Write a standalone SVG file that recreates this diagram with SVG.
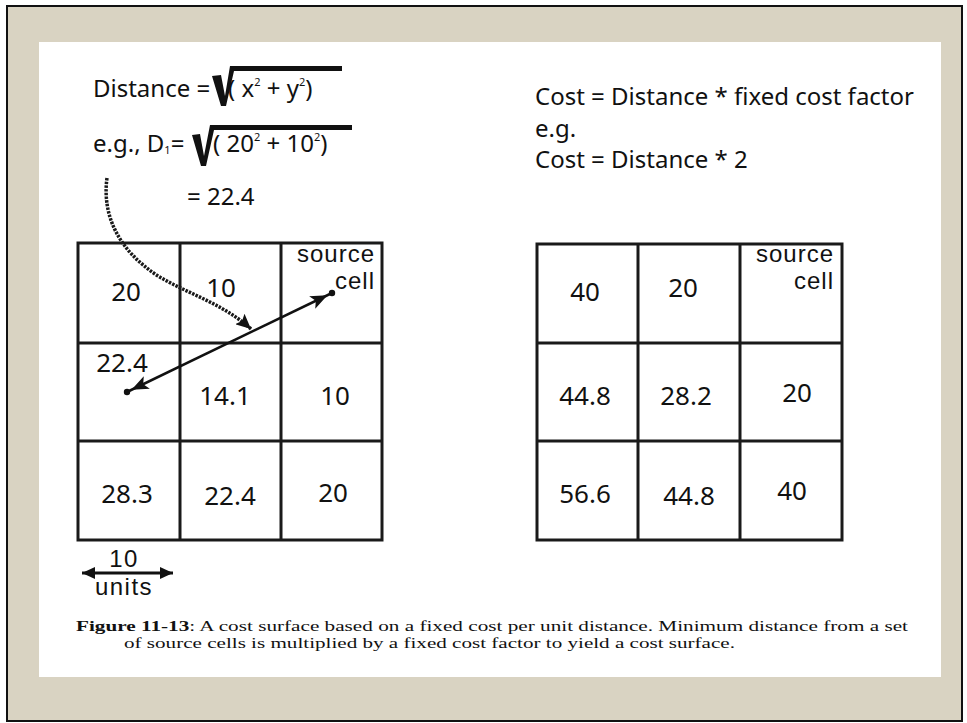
<svg xmlns="http://www.w3.org/2000/svg" width="967" height="723" viewBox="0 0 967 723">
<style>
.hand{font-family:"Noto Sans","DejaVu Sans",sans-serif;fill:#111}
.f24{font-size:24px}
.cellnum{font-size:26px;text-anchor:middle}
.src{font-family:"Liberation Sans",Arial,sans-serif;font-size:24px;letter-spacing:1px;text-anchor:end;fill:#111}
.leg{font-family:"Liberation Sans",Arial,sans-serif;font-size:24px;letter-spacing:1.5px;text-anchor:middle;fill:#111}
.grid{fill:none;stroke:#1a1a1a;stroke-width:3}
.cap{font-family:"Liberation Serif","Times New Roman",serif;font-size:15px;fill:#111}
.sup{font-size:11px}
</style>
<defs>
<marker id="ah" markerUnits="userSpaceOnUse" viewBox="0 0 24 14" markerWidth="24" markerHeight="14" refX="22" refY="7" orient="auto-start-reverse">
<path d="M0,0 L17,7 L0,14 L4,7 z" fill="#111"/>
</marker>
<marker id="ah2" markerUnits="userSpaceOnUse" viewBox="0 0 16 14" markerWidth="16" markerHeight="14" refX="15" refY="7" orient="auto">
<path d="M0,0 L15,7 L0,14 L3,7 z" fill="#111"/>
</marker>
<marker id="ah3" markerUnits="userSpaceOnUse" viewBox="0 0 14 12" markerWidth="14" markerHeight="12" refX="13" refY="6" orient="auto-start-reverse">
<path d="M0,0 L13,6 L0,12 z" fill="#111"/>
</marker>
</defs>

<rect x="7" y="6" width="955" height="715" fill="#D9D3C2" stroke="#111" stroke-width="2"/>
<rect x="39" y="42" width="902" height="635" fill="#ffffff"/>

<g id="formula-distance">
<text class="hand f24" x="93" y="97">Distance =</text>
<path d="M212,76 L221,75 L225,96 L230,66 L342,66 L342,71 L234,71 L226,106 L221,106 z" fill="#111"/>
<text class="hand f24" x="228" y="97">( x<tspan class="sup" dy="-11">2</tspan><tspan dy="11"> + y</tspan><tspan class="sup" dy="-11">2</tspan><tspan dy="11">)</tspan></text>
</g>

<g id="formula-example">
<text class="hand f24" x="93" y="152">e.g., D<tspan class="sup" dy="2">1</tspan><tspan dy="-2">=</tspan></text>
<path d="M192,135 L200,134 L204,156 L210,125 L352,125 L352,130 L214,130 L206,166 L201,166 z" fill="#111"/>
<text class="hand f24" x="213" y="152">( 20<tspan class="sup" dy="-11">2</tspan><tspan dy="11"> + 10</tspan><tspan class="sup" dy="-11">2</tspan><tspan dy="11">)</tspan></text>
<text class="hand f24" x="187" y="205">= 22.4</text>
</g>

<g id="formula-cost">
<text class="hand f24" x="535" y="105">Cost = Distance * fixed cost factor</text>
<text class="hand f24" x="535" y="137">e.g.</text>
<text class="hand f24" x="535" y="168">Cost = Distance * 2</text>
</g>

<g id="distance-grid">
<rect class="grid" x="78" y="243" width="304" height="297"/>
<line class="grid" x1="180" y1="243" x2="180" y2="540"/>
<line class="grid" x1="281" y1="243" x2="281" y2="540"/>
<line class="grid" x1="78" y1="343" x2="382" y2="343"/>
<line class="grid" x1="78" y1="441" x2="382" y2="441"/>
<text class="hand cellnum" x="126" y="301">20</text>
<text class="hand cellnum" x="221" y="297">10</text>
<text class="src" x="375" y="262">source</text>
<text class="src" x="375" y="289">cell</text>
<text class="hand cellnum" x="122" y="372">22.4</text>
<text class="hand cellnum" x="225" y="405">14.1</text>
<text class="hand cellnum" x="335" y="405">10</text>
<text class="hand cellnum" x="127" y="503">28.3</text>
<text class="hand cellnum" x="230" y="505">22.4</text>
<text class="hand cellnum" x="333" y="502">20</text>
</g>

<g id="cost-grid">
<rect class="grid" x="537" y="244" width="305" height="296"/>
<line class="grid" x1="638" y1="244" x2="638" y2="540"/>
<line class="grid" x1="740" y1="244" x2="740" y2="540"/>
<line class="grid" x1="537" y1="343" x2="842" y2="343"/>
<line class="grid" x1="537" y1="441" x2="842" y2="441"/>
<text class="hand cellnum" x="585" y="301">40</text>
<text class="hand cellnum" x="683" y="297">20</text>
<text class="src" x="834" y="262">source</text>
<text class="src" x="834" y="289">cell</text>
<text class="hand cellnum" x="585" y="405">44.8</text>
<text class="hand cellnum" x="686" y="405">28.2</text>
<text class="hand cellnum" x="797" y="402">20</text>
<text class="hand cellnum" x="585" y="503">56.6</text>
<text class="hand cellnum" x="689" y="505">44.8</text>
<text class="hand cellnum" x="792" y="500">40</text>
</g>

<g id="connectors">
<line x1="127" y1="392" x2="332" y2="293" stroke="#111" stroke-width="2.5" marker-start="url(#ah)" marker-end="url(#ah)"/>
<circle cx="127" cy="392" r="3.2" fill="#111"/>
<circle cx="332" cy="293" r="3.2" fill="#111"/>
<path d="M107,178 C102,215 118,250 158,276 C188,294 222,303 251,329" fill="none" stroke="#1a1a1a" stroke-width="3.5" stroke-dasharray="2.5 1.2" marker-end="url(#ah2)"/>
<line x1="82" y1="573" x2="173" y2="573" stroke="#111" stroke-width="3" marker-start="url(#ah3)" marker-end="url(#ah3)"/>
</g>

<g id="scale-legend">
<text class="leg" x="124" y="567">10</text>
<text class="leg" x="124" y="595">units</text>
</g>

<g id="caption">
<text class="cap" x="76" y="631" textLength="832" lengthAdjust="spacingAndGlyphs"><tspan font-weight="bold">Figure 11-13</tspan>: A cost surface based on a fixed cost per unit distance.  Minimum distance from a set</text>
<text class="cap" x="124" y="648" textLength="611" lengthAdjust="spacingAndGlyphs">of source cells is multiplied by a fixed cost factor to yield a cost surface.</text>
</g>
</svg>
